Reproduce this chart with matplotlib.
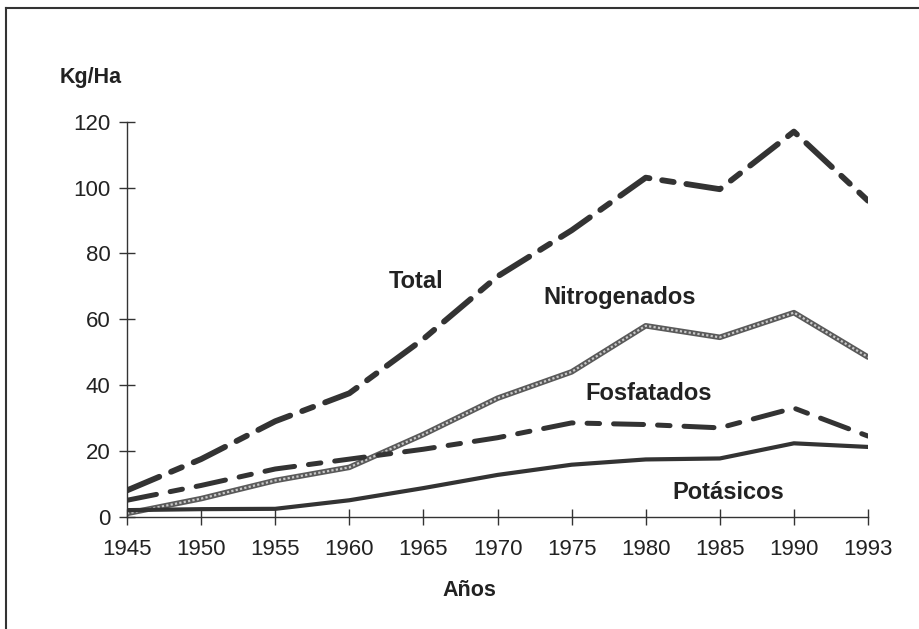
import matplotlib
matplotlib.use("Agg")
import matplotlib.pyplot as plt
from matplotlib.lines import Line2D

# data (Kg/Ha)
years = ["1945", "1950", "1955", "1960", "1965", "1970", "1975", "1980", "1985", "1990", "1993"]
total = [8, 17.5, 29, 37.5, 54, 73, 87, 103, 99.5, 117, 96]
nitrogenados = [1, 5.5, 11, 15, 25, 36, 44, 58, 54.5, 62, 48.5]
fosfatados = [5, 9.5, 14.5, 17.5, 20.5, 24, 28.5, 28, 27, 33, 24.5]
potasicos = [2, 2.3, 2.4, 5, 8.7, 12.7, 15.8, 17.4, 17.7, 22.3, 21.2]

plt.rcParams['font.family'] = ['Liberation Sans', 'DejaVu Sans']

fig = plt.figure(figsize=(9.19, 6.29), dpi=100)
ax = fig.add_axes([0.1382, 0.1785, 0.8063, 0.628])

x = list(range(len(years)))

# Total: long dash / short dash
ax.plot(x, total, color='#333333', lw=4.2, linestyle=(0, (6, 2.2, 2, 2.2)),
        dash_capstyle='round', solid_capstyle='round')
# Nitrogenados: grey textured line
ax.plot(x, nitrogenados, color='#5a5a5a', lw=4, solid_capstyle='round')
ax.plot(x, nitrogenados, color='#c8c8c8', lw=1.6, linestyle=(0, (1, 1)))
# Fosfatados: dashed
ax.plot(x, fosfatados, color='#333333', lw=3.6, linestyle=(0, (6, 2.8, 2.5, 2.8)),
        dash_capstyle='round')
# Potasicos: solid
ax.plot(x, potasicos, color='#333333', lw=3, solid_capstyle='round')

ax.set_xlim(0, 10)
ax.set_ylim(0, 120)
ax.set_xticks(x)
ax.set_xticklabels(years)
ax.set_yticks(range(0, 121, 20))

for s in ['top', 'right']:
    ax.spines[s].set_visible(False)
for s in ['left', 'bottom']:
    ax.spines[s].set_color('#333333')
    ax.spines[s].set_linewidth(1)
ax.spines['left'].set_bounds(0, 120)

ax.tick_params(axis='both', direction='inout', length=12, width=1, color='#333333',
               labelsize=16, labelcolor='#222222')
ax.tick_params(axis='x', pad=10)
ax.tick_params(axis='y', pad=6)

# series labels
lab = dict(fontsize=17, fontweight='bold', color='#222222', ha='center', va='center')
ax.text(3.9, 71.6, 'Total', **lab)
ax.text(6.65, 66.7, 'Nitrogenados', **lab)
ax.text(7.04, 37.5, 'Fosfatados', **lab)
ax.text(8.12, 7.5, 'Potásicos', **lab)

fig.text(91 / 919, 1 - 77 / 629, 'Kg/Ha', fontsize=15.5, fontweight='bold', color='#222222',
         ha='center', va='center')
fig.text(469 / 919, 1 - 590 / 629, 'Años', fontsize=15.5, fontweight='bold', color='#222222',
         ha='center', va='center')

# outer frame (top and left edges visible)
fig.add_artist(Line2D([6 / 919, 1.0], [1 - 8 / 629, 1 - 8 / 629], transform=fig.transFigure,
                      color='#333333', lw=1.5))
fig.add_artist(Line2D([6 / 919, 6 / 919], [0, 1 - 8 / 629], transform=fig.transFigure,
                      color='#333333', lw=1.5))

fig.savefig('out.png', dpi=100)
